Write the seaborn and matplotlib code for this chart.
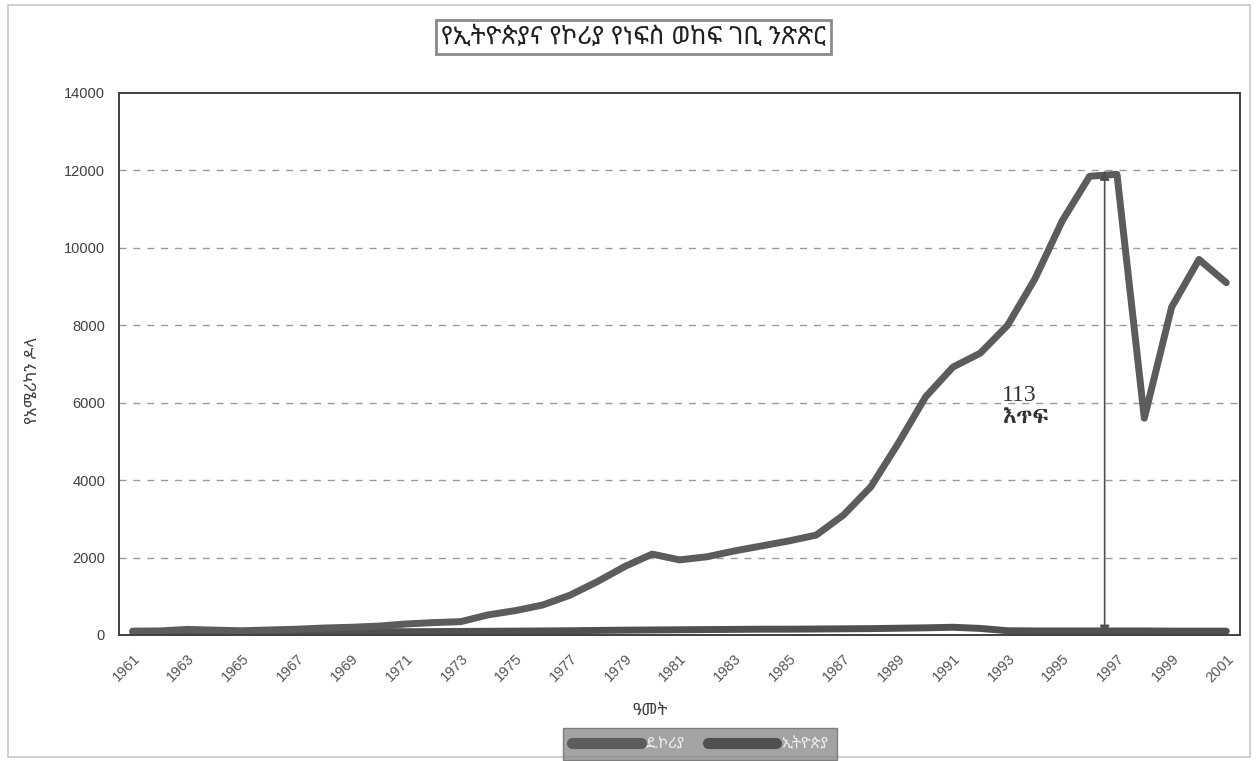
import numpy as np
import pandas as pd
import matplotlib
matplotlib.use("Agg")
import matplotlib.pyplot as plt
import seaborn as sns
from matplotlib import font_manager as fm
from matplotlib.ft2font import FT2Font
from matplotlib.patches import Rectangle
from matplotlib.lines import Line2D

# ---------------- data ----------------
years = list(range(1961, 2002))
korea = [100, 105, 145, 125, 110, 130, 150, 180, 200, 230,
         285, 320, 345, 520, 630, 775, 1030, 1380, 1770, 2090,
         1940, 2020, 2170, 2300, 2430, 2580, 3100, 3830, 4950, 6150,
         6920, 7280, 8000, 9200, 10700, 11850, 11900, 5600, 8470, 9700,
         9100]
ethiopia = [75, 75, 78, 80, 82, 82, 84, 85, 86, 88,
            85, 88, 92, 96, 100, 105, 110, 118, 125, 130,
            135, 140, 145, 150, 150, 155, 160, 165, 175, 185,
            200, 170, 110, 105, 105, 105, 105, 105, 100, 100,
            100]
series_names = ["ደ.ኮሪያ", "ኢትዮጵያ"]
title_text = "የኢትዮጵያና የኮሪያ የነፍስ ወከፍ ገቢ ንጽጽር"
ylabel_text = "የአሜሪካን ዶላ"
xlabel_text = "ዓመት"
annot_text = "113\nእጥፍ"
yticks = list(range(0, 14001, 2000))
xtick_years = list(range(1961, 2002, 2))
peak_value = 12000

# ---------------- fonts ----------------
eth_fonts = []
for f in fm.fontManager.ttflist:
    try:
        cmap = FT2Font(f.fname).get_charmap()
        if 0x12A0 in cmap and 0x1275 in cmap and 0x12F6 in cmap:
            if f.name not in eth_fonts:
                eth_fonts.append(f.name)
    except Exception:
        pass
sans_pref = [n for n in ["Noto Sans Ethiopic", "Abyssinica SIL"] if n in eth_fonts]
serif_pref = [n for n in ["Abyssinica SIL", "Noto Serif Ethiopic"] if n in eth_fonts]
eth_sans = (sans_pref + eth_fonts + [None])[0]
eth_serif = (serif_pref + eth_fonts + [None])[0]

sns.set_theme(style="white")
fams = ["Liberation Sans"] + ([eth_sans] if eth_sans else []) + ["DejaVu Sans"]
serif_fams = ["Liberation Serif"] + ([eth_serif] if eth_serif else []) + ["DejaVu Sans"]
plt.rcParams["font.family"] = fams

df = pd.DataFrame({
    "year": years * 2,
    "value": korea + ethiopia,
    "country": [series_names[0]] * len(years) + [series_names[1]] * len(years),
})

fig = plt.figure(figsize=(12.58, 7.61), dpi=100)
fig.patch.set_facecolor("white")
ax = fig.add_axes([119 / 1258, 1 - 635 / 761, (1240 - 119) / 1258, (635 - 93) / 761])

fig.add_artist(Rectangle((8 / 1258, 4 / 761), 1242 / 1258, 752 / 761,
                         transform=fig.transFigure, fill=False,
                         edgecolor="#c8c8c8", linewidth=1.2))

sns.lineplot(data=df, x="year", y="value", hue="country",
             palette={series_names[0]: "#5c5c5c", series_names[1]: "#505050"},
             hue_order=[series_names[1], series_names[0]],
             linewidth=5.0, ax=ax, legend=False, sort=True)

ax.set_xlim(1960.5, 2001.5)
ax.set_ylim(0, 14000)
ax.set_yticks(yticks)
ax.set_yticklabels([str(v) for v in yticks], fontsize=10.5, color="#404040")
ax.set_xticks(xtick_years)
ax.set_xticklabels([str(v) for v in xtick_years], rotation=45, ha="right",
                   rotation_mode="anchor", fontsize=10.5, color="#555555")
ax.tick_params(axis="both", length=4, color="#606060", direction="out", width=0.8)
ax.tick_params(axis="y", pad=6)
ax.tick_params(axis="x", pad=8)

for v in yticks[1:-1]:
    ax.axhline(v, color="#9a9a9a", linestyle=(0, (5, 5)), linewidth=1.0, zorder=0)

for s in ax.spines.values():
    s.set_color("#404040")
    s.set_linewidth(1.4)

ax.set_xlabel(xlabel_text, fontsize=12, color="#404040")
ax.xaxis.set_label_coords((650 - 119) / (1240 - 119), -(703 - 635) / (635 - 93))
ax.set_ylabel(ylabel_text, fontsize=12, color="#404040")
ax.yaxis.set_label_coords(-(119 - 40) / (1240 - 119), 0.47)

arrow_x = 1996.55
ax.annotate("", xy=(arrow_x, 0), xytext=(arrow_x, peak_value),
            arrowprops=dict(arrowstyle="<|-|>", color="#505050", lw=1.2,
                            mutation_scale=14, shrinkA=0, shrinkB=0))
ax.text(1992.8, 5900, annot_text, fontsize=17, color="#303030",
        family=serif_fams, ha="left", va="center", linespacing=1.1)

fig.text(0.5035, 1 - 37 / 761, title_text, ha="center", va="center",
         fontsize=18, color="#202020", fontweight="bold",
         bbox=dict(boxstyle="square,pad=0.2", facecolor="white",
                   edgecolor="#8a8a8a", linewidth=2.0))

handles = [Line2D([0], [0], color="#5c5c5c", lw=8),
           Line2D([0], [0], color="#505050", lw=8)]
leg = fig.legend(handles, series_names, loc="center", ncol=2,
                 bbox_to_anchor=(700 / 1258, 1 - 744 / 761),
                 frameon=True, fontsize=11, handlelength=4.5,
                 columnspacing=1.5, borderpad=0.3, handletextpad=0.3)
leg.get_frame().set_facecolor("#8c8c8c")
leg.get_frame().set_edgecolor("#6a6a6a")
leg.get_frame().set_boxstyle("square")
for t in leg.get_texts():
    t.set_color("#eeeeee")

fig.savefig("out.png", dpi=100, facecolor="white")
